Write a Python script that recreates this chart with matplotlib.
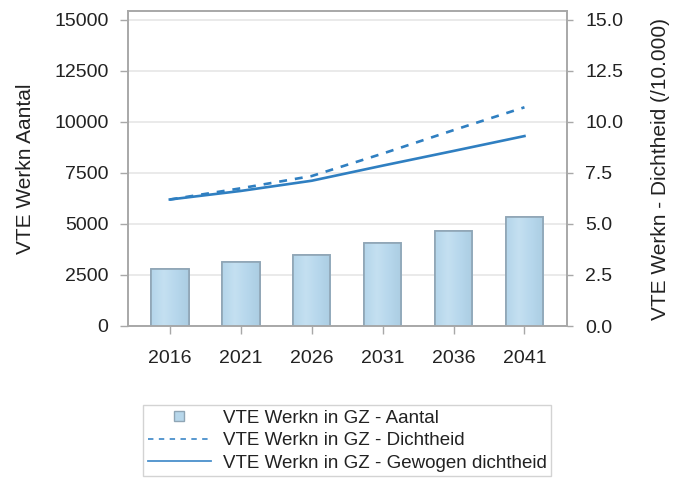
import matplotlib
matplotlib.use('Agg')
import matplotlib.pyplot as plt
import numpy as np
from matplotlib.colors import LinearSegmentedColormap
from matplotlib.lines import Line2D

# Data
years = ['2016', '2021', '2026', '2031', '2036', '2041']
aantal = [2780, 3120, 3500, 4050, 4670, 5340]
dichtheid = [6.20, 6.75, 7.35, 8.45, 9.60, 10.72]
gewogen = [6.20, 6.62, 7.12, 7.86, 8.58, 9.31]

left_ticks = [0, 2500, 5000, 7500, 10000, 12500, 15000]
right_ticks = [0.0, 2.5, 5.0, 7.5, 10.0, 12.5, 15.0]

bar_color = '#b7d7eb'
bar_edge = '#8fa5b5'
line_color = '#2f7fc1'
text_color = '#222222'
spine_color = '#a8a8a8'

plt.rcParams['font.family'] = ['Liberation Sans', 'DejaVu Sans']

fig = plt.figure(figsize=(6.78, 4.79), dpi=100)
ax = fig.add_axes([128 / 678, 1 - 326 / 479, (567 - 128) / 678, (326 - 11) / 479])
ax2 = ax.twinx()

x = list(range(len(years)))

# Bars on the left axis, with a soft horizontal gradient like the original
bars = ax.bar(x, aantal, width=0.53, color=bar_color, edgecolor=bar_edge,
              linewidth=1.2, zorder=3)
grad = LinearSegmentedColormap.from_list('bar', ['#b4d5ea', '#c4e0f1', '#b7d7ec', '#abcde2'])
g = np.linspace(0, 1, 64).reshape(1, -1)
for b in bars:
    x0, w, h = b.get_x(), b.get_width(), b.get_height()
    im = ax.imshow(g, cmap=grad, aspect='auto', extent=(x0, x0 + w, 0, h),
                   zorder=3.5, interpolation='bilinear')
    im.set_clip_path(b)
    ax.bar(b.get_x() + w / 2, h, width=w, fill=False, edgecolor=bar_edge,
           linewidth=1.2, zorder=4)

# Lines on the right axis
ax2.plot(x, dichtheid, color=line_color, linewidth=1.9, linestyle=(0, (3, 3)),
         dash_capstyle='butt')
ax2.plot(x, gewogen, color=line_color, linewidth=1.9)

ymax = 15440
ax.set_ylim(0, ymax)
ax2.set_ylim(0, ymax / 1000)
ax.set_xlim(-0.59, 5.6)

ax.set_yticks(left_ticks)
ax.set_yticklabels([str(v) for v in left_ticks])
ax2.set_yticks(right_ticks)
ax2.set_yticklabels(['%.1f' % v for v in right_ticks])
ax.set_xticks(x)
ax.set_xticklabels(years)

ax.yaxis.grid(True, color='#e6e6e6', linewidth=1.2, zorder=0)
ax.set_axisbelow(True)

for a in (ax, ax2):
    for s in a.spines.values():
        s.set_color(spine_color)
        s.set_linewidth(1.2)
    a.tick_params(colors=spine_color, labelcolor=text_color, labelsize=14, length=6, width=1)

ax.tick_params(axis='y', pad=8)
ax.tick_params(axis='x', pad=11)
ax2.tick_params(axis='y', length=4, pad=9)

ax.set_ylabel('VTE Werkn Aantal', fontsize=15, color=text_color, labelpad=14)
ax2.set_ylabel('VTE Werkn - Dichtheid (/10.000)', fontsize=15, color=text_color, labelpad=20)

# Legend below the plot
handles = [
    Line2D([], [], marker='s', linestyle='none', markersize=7,
           markerfacecolor=bar_color, markeredgecolor=bar_edge),
    Line2D([], [], color='#4a90cc', linewidth=1.3, linestyle=(0, (3, 3))),
    Line2D([], [], color='#4a90cc', linewidth=1.3),
]
labels = ['VTE Werkn in GZ - Aantal', 'VTE Werkn in GZ - Dichtheid',
          'VTE Werkn in GZ - Gewogen dichtheid']
leg = fig.legend(handles, labels, loc='upper center',
                 bbox_to_anchor=(347 / 678, 1 - 405 / 479), fontsize=13.5,
                 frameon=True, fancybox=False, edgecolor='#c8c8c8',
                 handlelength=3.4, handletextpad=0.6, labelspacing=0.28,
                 borderpad=0.25, borderaxespad=0)
leg.get_frame().set_linewidth(1.0)
for t in leg.get_texts():
    t.set_color(text_color)

fig.savefig('out.png', dpi=100)
